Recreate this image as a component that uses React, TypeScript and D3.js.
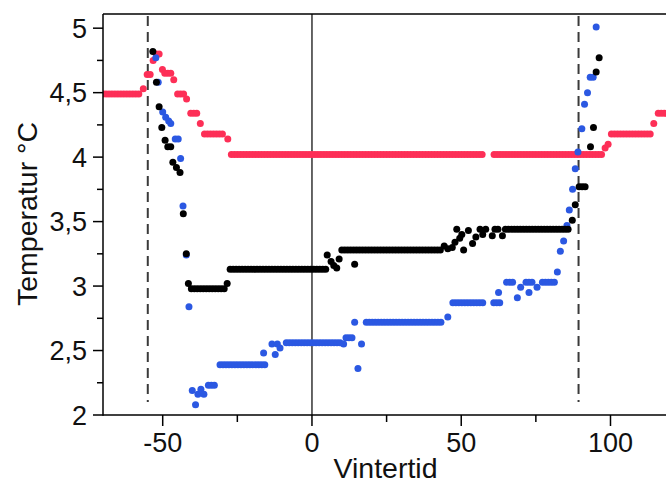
import React from "react";
import * as d3 from "d3";

// Runs of constant temperature: [startDay, endDay, temperature]; a point each day
const redRuns: [number, number, number][] = [
  [-70, -58, 4.49], [-56.5, -56.5, 4.53], [-55.2, -54.2, 4.64], [-53.2, -53.2, 4.75],
  [-52.2, -51.2, 4.80], [-50.1, -50.1, 4.68], [-49.3, -47.3, 4.65], [-46.3, -46.3, 4.60],
  [-45, -43, 4.49], [-42, -42, 4.45], [-40.6, -38.6, 4.34], [-37.4, -37.4, 4.26],
  [-36, -30, 4.18], [-28.2, -28.2, 4.14], [-27, 57, 4.02], [61, 97, 4.02],
  [98.2, 98.2, 4.07], [99.2, 99.2, 4.10], [100.3, 113.3, 4.18], [114.5, 114.5, 4.26],
  [116, 121, 4.34],
];

const blackRuns: [number, number, number][] = [
  [-53.3, -53.3, 4.82], [-52.1, -52.1, 4.58], [-51.2, -51.2, 4.39], [-50.3, -50.3, 4.23],
  [-49.2, -49.2, 4.13], [-48.3, -47.3, 4.08], [-46.6, -46.6, 3.96], [-45.4, -45.4, 3.92],
  [-44.2, -44.2, 3.88], [-43.1, -43.1, 3.56], [-42.1, -42.1, 3.25], [-41.4, -41.4, 3.02],
  [-40.4, -29.4, 2.98], [-28.4, -28.4, 3.02], [-27.4, 4.6, 3.13], [5.1, 5.1, 3.24],
  [6.4, 6.4, 3.19], [7.3, 7.3, 3.16], [8.3, 8.3, 3.14], [9.1, 9.1, 3.21],
  [10, 43, 3.28], [14.3, 14.3, 3.17], [44.3, 44.3, 3.31], [45.5, 45.5, 3.29],
  [47, 47, 3.30], [47.9, 47.9, 3.34], [48.5, 48.5, 3.44], [49.5, 49.5, 3.37],
  [50.2, 50.2, 3.40], [50.8, 50.8, 3.28], [52.4, 52.4, 3.43], [53.8, 53.8, 3.33],
  [54.9, 54.9, 3.38], [56.3, 56.3, 3.44], [57.2, 57.2, 3.40], [58.2, 58.2, 3.44],
  [60.4, 60.4, 3.39], [61.3, 62.8, 3.44], [63.8, 63.8, 3.39], [64.8, 86, 3.44],
  [87.2, 87.2, 3.51], [88.2, 88.2, 3.63], [89.5, 91.5, 3.77], [93.3, 93.3, 4.08],
  [94.3, 94.3, 4.23], [95.2, 95.2, 4.66], [96.2, 96.2, 4.77],
];

const blueRuns: [number, number, number][] = [
  [-52.3, -52.3, 4.77], [-51.5, -51.5, 4.58], [-50, -50, 4.35], [-49, -49, 4.31],
  [-48, -48, 4.28], [-47.3, -47.3, 4.26], [-45.8, -44.8, 4.14], [-44, -44, 3.99],
  [-43.2, -43.2, 3.62], [-42.1, -42.1, 3.24], [-41.2, -41.2, 2.84], [-40.1, -40.1, 2.19],
  [-39, -39, 2.08], [-38.2, -38.2, 2.16], [-37.2, -37.2, 2.20], [-36.2, -36.2, 2.16],
  [-34.7, -32.7, 2.23], [-30.8, -15.3, 2.39], [-16.2, -16.2, 2.48], [-13.4, -13.4, 2.55],
  [-12.3, -12.3, 2.47], [-11.6, -11.6, 2.55], [-10.7, -10.7, 2.52], [-8.6, 9.4, 2.56],
  [10.6, 10.6, 2.55], [11.4, 13.4, 2.60], [14.3, 14.3, 2.72], [15.4, 15.4, 2.36],
  [16.6, 16.6, 2.55], [18.2, 43.2, 2.72], [45.5, 45.5, 2.76], [47.2, 57.2, 2.87],
  [60.9, 62.9, 2.87], [62.5, 62.5, 2.95], [65.2, 67.2, 3.03], [68.8, 68.8, 2.91],
  [69.9, 69.9, 2.99], [71.7, 73.7, 3.03], [72.7, 72.7, 2.95], [75.4, 75.4, 2.99],
  [77.2, 81.2, 3.03], [82.2, 82.2, 3.11], [83.2, 83.2, 3.27], [84.3, 84.3, 3.35],
  [85.4, 85.4, 3.47], [86.2, 86.2, 3.59], [87.3, 87.3, 3.75], [88.2, 88.2, 3.91],
  [89.1, 89.1, 4.04], [90.4, 90.4, 4.22], [91.3, 91.3, 4.41], [92.3, 92.3, 4.50],
  [93.2, 94.2, 4.62], [95.2, 95.2, 5.01],
];

const yMajor = [2, 2.5, 3, 3.5, 4, 4.5, 5];
const yMinor = [2.25, 2.75, 3.25, 3.75, 4.25, 4.75];
const xMajor = [-50, 0, 50, 100];
const xMinor = [-25, 25, 75];
const dashedDays = [-55, 89.3];
const zeroDay = [0];

function expand(runs: [number, number, number][]) {
  const pts: { x: number; y: number }[] = [];
  for (const [a, b, v] of runs) {
    for (let x = a; x <= b + 1e-6; x += 1) pts.push({ x, y: v });
  }
  return pts;
}

const W = 666, H = 485;
const L = 103, T = 14, B = 415;

export default function App() {
  const x = d3.scaleLinear().domain([-70, 120]).range([L, 670.2]);
  const y = d3.scaleLinear().domain([2, 5.11]).range([B, T]);
  const font = "'Liberation Sans', Arial, Helvetica, sans-serif";
  const series = [
    { pts: expand(redRuns), color: "#fd2f57" },
    { pts: expand(blueRuns), color: "#2b58e2" },
    { pts: expand(blackRuns), color: "#000000" },
  ];
  const fmt = (v: number) => String(v).replace(".", ",");
  return (
    <svg width={W} height={H} style={{ position: "absolute", left: 0, top: 0, background: "#fff" }}>
      <defs>
        <clipPath id="plot">
          <rect x={L} y={T} width={W - L} height={B - T} />
        </clipPath>
      </defs>
      <g clipPath="url(#plot)">
        {zeroDay.map((d) => (
          <line key={"z" + d} x1={x(d)} x2={x(d)} y1={T} y2={B} stroke="#333" strokeWidth={1.5} />
        ))}
        {dashedDays.map((d) => (
          <line key={"d" + d} x1={x(d)} x2={x(d)} y1={T + 2} y2={402} stroke="#3a3a3a" strokeWidth={2} strokeDasharray="10,6" />
        ))}
        {series.map((s, i) => (
          <g key={i} fill={s.color}>
            {s.pts.map((p, j) => (
              <circle key={j} cx={x(p.x)} cy={y(p.y)} r={3.5} />
            ))}
          </g>
        ))}
      </g>
      {/* frame */}
      <line x1={L} x2={W} y1={T} y2={T} stroke="#000" strokeWidth={1.5} />
      <line x1={L} x2={W} y1={B} y2={B} stroke="#000" strokeWidth={1.5} />
      <line x1={L} x2={L} y1={T} y2={B + 0.75} stroke="#000" strokeWidth={1.5} />
      {/* y ticks */}
      {yMajor.map((v) => (
        <g key={"ym" + v}>
          <line x1={L - 10} x2={L} y1={y(v)} y2={y(v)} stroke="#000" strokeWidth={1.5} />
          <text x={87} y={y(v)} dy="0.36em" textAnchor="end" fontFamily={font} fontSize={27} fill="#111">
            {fmt(v)}
          </text>
        </g>
      ))}
      {yMinor.map((v) => (
        <line key={"yn" + v} x1={L - 6} x2={L} y1={y(v)} y2={y(v)} stroke="#000" strokeWidth={1.5} />
      ))}
      {/* x ticks */}
      {xMajor.map((v) => (
        <g key={"xm" + v}>
          <line x1={x(v)} x2={x(v)} y1={B} y2={B + 11} stroke="#000" strokeWidth={1.5} />
          <text x={x(v)} y={452} textAnchor="middle" fontFamily={font} fontSize={27} fill="#111">
            {String(v)}
          </text>
        </g>
      ))}
      {xMinor.map((v) => (
        <line key={"xn" + v} x1={x(v)} x2={x(v)} y1={B} y2={B + 7} stroke="#000" strokeWidth={1.5} />
      ))}
      <text x={385.5} y={478} textAnchor="middle" fontFamily={font} fontSize={28.5} fill="#111">
        Vintertid
      </text>
      <text transform="translate(37,214) rotate(-90)" textAnchor="middle" fontFamily={font} fontSize={28.5} fill="#111">
        Temperatur °C
      </text>
    </svg>
  );
}
